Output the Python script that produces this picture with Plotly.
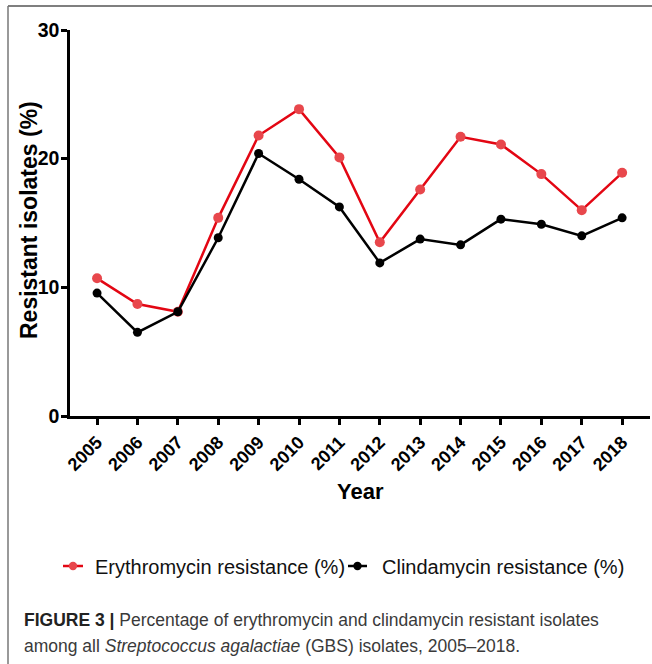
import plotly.graph_objects as go

years = [2005, 2006, 2007, 2008, 2009, 2010, 2011, 2012, 2013, 2014, 2015, 2016, 2017, 2018]
erythromycin = [10.7, 8.7, 8.1, 15.4, 21.8, 23.85, 20.1, 13.5, 17.6, 21.7, 21.1, 18.8, 16.0, 18.9]
clindamycin = [9.55, 6.5, 8.1, 13.85, 20.4, 18.4, 16.25, 11.9, 13.75, 13.3, 15.3, 14.9, 14.0, 15.4]
y_ticks = [0, 10, 20, 30]
series_names = ["Erythromycin resistance (%)", "Clindamycin resistance (%)"]

FONT = "Liberation Sans, Arial, sans-serif"
W, H = 652, 664
L, R, T, B = 70, 2, 30, 248
pw, ph = W - L - R, H - T - B

RED_LINE, RED_MARK = "#e30613", "#e8474c"

def px_x(px):
    return (px - L) / pw

def px_y(py):
    return (H - B - py) / ph

fig = go.Figure()
fig.add_trace(go.Scatter(
    x=years, y=erythromycin, mode="lines+markers", name=series_names[0],
    line=dict(color=RED_LINE, width=2.5),
    marker=dict(color=RED_MARK, size=10),
))
fig.add_trace(go.Scatter(
    x=years, y=clindamycin, mode="lines+markers", name=series_names[1],
    line=dict(color="#000000", width=2.5),
    marker=dict(color="#000000", size=9),
))

# custom legend (short line + dot + label), as in the reference
legend_items = [(63, 83, 93, RED_LINE, RED_MARK, series_names[0]),
                (348, 367, 380, "#000000", "#000000", series_names[1])]
shapes = [
    dict(type="line", xref="paper", yref="paper", x0=px_x(8), x1=px_x(652), y0=px_y(6), y1=px_y(6),
         line=dict(color="#555555", width=1.5)),
    dict(type="line", xref="paper", yref="paper", x0=px_x(8), x1=px_x(8), y0=px_y(6), y1=px_y(664),
         line=dict(color="#777777", width=1.5)),
]
annotations = []
ly = 566
for x0, x1, xt, lc, mc, name in legend_items:
    shapes.append(dict(type="line", xref="paper", yref="paper", x0=px_x(x0), x1=px_x(x1),
                       y0=px_y(ly), y1=px_y(ly), line=dict(color=lc, width=2.5)))
    cx = (x0 + x1) / 2
    r = 4.2
    shapes.append(dict(type="circle", xref="paper", yref="paper", x0=px_x(cx - r), x1=px_x(cx + r),
                       y0=px_y(ly + r), y1=px_y(ly - r), fillcolor=mc, line=dict(width=0)))
    annotations.append(dict(xref="paper", yref="paper", x=px_x(xt), y=px_y(567), xanchor="left",
                            yanchor="middle", showarrow=False, text=name,
                            font=dict(family=FONT, size=20, color="#111111")))

annotations += [
    dict(xref="paper", yref="paper", x=px_x(360), y=px_y(491), xanchor="center", yanchor="middle",
         showarrow=False, text="<b>Year</b>",
         font=dict(family=FONT, size=22, color="black")),
    dict(xref="paper", yref="paper", x=px_x(29), y=px_y(220), xanchor="center", yanchor="middle",
         showarrow=False, textangle=-90, text="<b>Resistant isolates (%)</b>",
         font=dict(family=FONT, size=23, color="black")),
    dict(xref="paper", yref="paper", x=px_x(22), y=px_y(620), xanchor="left", yanchor="middle",
         align="left", showarrow=False,
         text="<b><span style='color:#222'>FIGURE 3 |</span></b> Percentage of erythromycin and clindamycin resistant isolates",
         font=dict(family=FONT, size=17.5, color="#3a3a3a")),
    dict(xref="paper", yref="paper", x=px_x(22), y=px_y(646), xanchor="left", yanchor="middle",
         align="left", showarrow=False,
         text="among all <i>Streptococcus agalactiae</i> (GBS) isolates, 2005–2018.",
         font=dict(family=FONT, size=17.5, color="#3a3a3a")),
]

fig.update_layout(
    width=W, height=H,
    margin=dict(l=L, r=R, t=T, b=B, pad=0),
    paper_bgcolor="white", plot_bgcolor="white",
    font=dict(family=FONT, color="black"),
    showlegend=False,
    xaxis=dict(
        range=[2004.33, 2018.69], tickmode="array", tickvals=years,
        ticktext=[str(y) for y in years], tickangle=-45,
        showline=True, linecolor="black", linewidth=2.5,
        ticks="outside", ticklen=6, tickwidth=2.5, tickcolor="black",
        showgrid=False, zeroline=False, ticklabelstandoff=0,
        tickfont=dict(family=FONT, size=18, color="black", weight="bold"),
    ),
    yaxis=dict(
        range=[0, 30], tickmode="array", tickvals=y_ticks,
        showline=True, linecolor="black", linewidth=2.5,
        ticks="outside", ticklen=6, tickwidth=2.5, tickcolor="black",
        showgrid=False, zeroline=False, ticklabelstandoff=-2,
        tickfont=dict(family=FONT, size=19.5, color="black", weight="bold"),
    ),
    shapes=shapes,
    annotations=annotations,
)

fig.write_html("out.html", config={"displayModeBar": False},
               post_script="document.body.style.margin='0';document.body.style.overflow='hidden';")
